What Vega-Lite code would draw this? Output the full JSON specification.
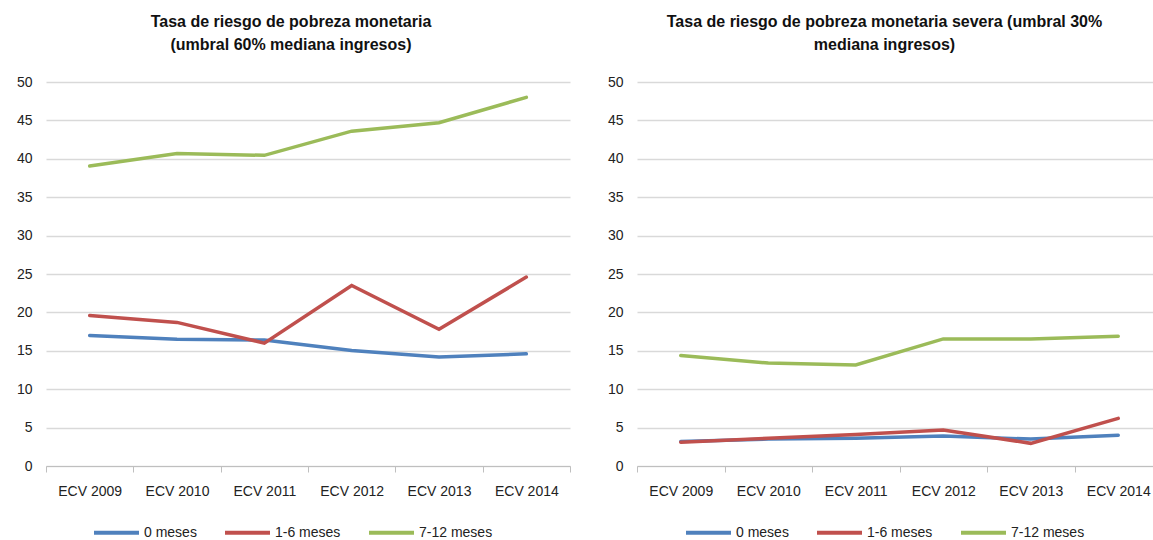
{
  "$schema": "https://vega.github.io/schema/vega-lite/v6.json",
  "padding": {"left": 0, "top": 14, "right": 0, "bottom": 0},
  "background": "white",
  "config": {
    "font": "Liberation Sans",
    "view": {"stroke": null},
    "axis": {"labelFont": "Liberation Sans", "labelFontSize": 14, "labelColor": "#222222"},
    "title": {"font": "Liberation Sans", "fontSize": 16, "fontWeight": "bold", "color": "#111111", "lineHeight": 23, "anchor": "middle", "offset": 22},
    "legend": {"labelFont": "Liberation Sans", "labelFontSize": 14, "labelColor": "#222222"}
  },
  "datasets": {
    "p1": [
      {"year": "ECV 2009", "grupo": "0 meses", "valor": 17.0},
      {"year": "ECV 2010", "grupo": "0 meses", "valor": 16.5},
      {"year": "ECV 2011", "grupo": "0 meses", "valor": 16.4},
      {"year": "ECV 2012", "grupo": "0 meses", "valor": 15.05},
      {"year": "ECV 2013", "grupo": "0 meses", "valor": 14.2},
      {"year": "ECV 2014", "grupo": "0 meses", "valor": 14.6},
      {"year": "ECV 2009", "grupo": "1-6 meses", "valor": 19.6},
      {"year": "ECV 2010", "grupo": "1-6 meses", "valor": 18.7},
      {"year": "ECV 2011", "grupo": "1-6 meses", "valor": 16.0},
      {"year": "ECV 2012", "grupo": "1-6 meses", "valor": 23.5},
      {"year": "ECV 2013", "grupo": "1-6 meses", "valor": 17.8},
      {"year": "ECV 2014", "grupo": "1-6 meses", "valor": 24.6},
      {"year": "ECV 2009", "grupo": "7-12 meses", "valor": 39.05},
      {"year": "ECV 2010", "grupo": "7-12 meses", "valor": 40.7},
      {"year": "ECV 2011", "grupo": "7-12 meses", "valor": 40.45},
      {"year": "ECV 2012", "grupo": "7-12 meses", "valor": 43.6},
      {"year": "ECV 2013", "grupo": "7-12 meses", "valor": 44.7},
      {"year": "ECV 2014", "grupo": "7-12 meses", "valor": 48.0}
    ],
    "p2": [
      {"year": "ECV 2009", "grupo": "0 meses", "valor": 3.2},
      {"year": "ECV 2010", "grupo": "0 meses", "valor": 3.5},
      {"year": "ECV 2011", "grupo": "0 meses", "valor": 3.6},
      {"year": "ECV 2012", "grupo": "0 meses", "valor": 3.9},
      {"year": "ECV 2013", "grupo": "0 meses", "valor": 3.5},
      {"year": "ECV 2014", "grupo": "0 meses", "valor": 4.0},
      {"year": "ECV 2009", "grupo": "1-6 meses", "valor": 3.1},
      {"year": "ECV 2010", "grupo": "1-6 meses", "valor": 3.6},
      {"year": "ECV 2011", "grupo": "1-6 meses", "valor": 4.1},
      {"year": "ECV 2012", "grupo": "1-6 meses", "valor": 4.7},
      {"year": "ECV 2013", "grupo": "1-6 meses", "valor": 2.95},
      {"year": "ECV 2014", "grupo": "1-6 meses", "valor": 6.2},
      {"year": "ECV 2009", "grupo": "7-12 meses", "valor": 14.4},
      {"year": "ECV 2010", "grupo": "7-12 meses", "valor": 13.4},
      {"year": "ECV 2011", "grupo": "7-12 meses", "valor": 13.15},
      {"year": "ECV 2012", "grupo": "7-12 meses", "valor": 16.55},
      {"year": "ECV 2013", "grupo": "7-12 meses", "valor": 16.55},
      {"year": "ECV 2014", "grupo": "7-12 meses", "valor": 16.9}
    ]
  },
  "spacing": 20,
  "resolve": {"scale": {"color": "independent"}, "legend": {"color": "independent"}},
  "hconcat": [
    {
      "title": {"text": ["Tasa de riesgo de pobreza monetaria", "(umbral 60% mediana ingresos)"], "dx": -17},
      "width": 524,
      "height": 384,
      "data": {"name": "p1"},
      "mark": {"type": "line", "strokeWidth": 3.5, "strokeCap": "round"},
      "encoding": {
        "x": {"field": "year", "type": "nominal", "sort": null, "title": null,
              "scale": {"paddingInner": 0, "paddingOuter": 0},
              "axis": {"labelAngle": 0, "domainColor": "#bfbfbf", "tickColor": "#bfbfbf", "tickBand": "extent", "tickSize": 6, "labelPadding": 12, "grid": false}},
        "y": {"field": "valor", "type": "quantitative", "title": null,
              "scale": {"domain": [0, 50], "nice": false, "zero": true},
              "axis": {"values": [0, 5, 10, 15, 20, 25, 30, 35, 40, 45, 50], "domain": false, "ticks": false, "labelPadding": 14, "minExtent": 46, "maxExtent": 46, "gridColor": "#d9d9d9", "gridWidth": 1.3}},
        "color": {"field": "grupo", "type": "nominal", "title": null,
                  "scale": {"domain": ["0 meses", "1-6 meses", "7-12 meses"], "range": ["#4f81bd", "#c0504d", "#9bbb59"]},
                  "legend": {"orient": "none", "direction": "horizontal", "legendX": 46, "legendY": 426, "symbolType": "stroke", "symbolStrokeWidth": 4, "symbolSize": 2025, "labelOffset": 3, "columnPadding": 20}}
      }
    },
    {
      "title": {"text": ["Tasa de riesgo de pobreza monetaria severa (umbral 30%", "mediana ingresos)"], "dx": -15},
      "width": 525,
      "height": 384,
      "data": {"name": "p2"},
      "mark": {"type": "line", "strokeWidth": 3.5, "strokeCap": "round"},
      "encoding": {
        "x": {"field": "year", "type": "nominal", "sort": null, "title": null,
              "scale": {"paddingInner": 0, "paddingOuter": 0},
              "axis": {"labelAngle": 0, "domainColor": "#bfbfbf", "tickColor": "#bfbfbf", "tickBand": "extent", "tickSize": 6, "labelPadding": 12, "grid": false}},
        "y": {"field": "valor", "type": "quantitative", "title": null,
              "scale": {"domain": [0, 50], "nice": false, "zero": true},
              "axis": {"values": [0, 5, 10, 15, 20, 25, 30, 35, 40, 45, 50], "domain": false, "ticks": false, "labelPadding": 14, "minExtent": 46, "maxExtent": 46, "gridColor": "#d9d9d9", "gridWidth": 1.3}},
        "color": {"field": "grupo", "type": "nominal", "title": null,
                  "scale": {"domain": ["0 meses", "1-6 meses", "7-12 meses"], "range": ["#4f81bd", "#c0504d", "#9bbb59"]},
                  "legend": {"orient": "none", "direction": "horizontal", "legendX": 47, "legendY": 426, "symbolType": "stroke", "symbolStrokeWidth": 4, "symbolSize": 2025, "labelOffset": 3, "columnPadding": 20}}
      }
    }
  ]
}
